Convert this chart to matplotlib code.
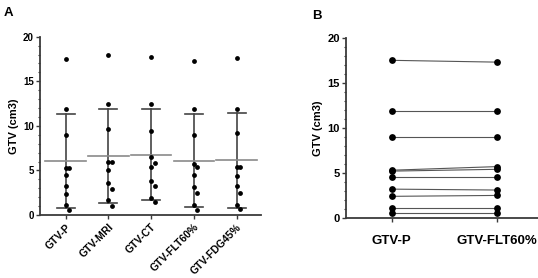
import numpy as np
import matplotlib.pyplot as plt

# --------------------------
# data
# --------------------------
groups = ['GTV-P', 'GTV-MRI', 'GTV-CT', 'GTV-FLT60%', 'GTV-FDG45%']
gtv_p = [17.5, 11.9, 9.0, 5.3, 5.3, 4.5, 3.2, 2.4, 1.1, 0.6]
gtv_mri = [17.9, 12.5, 9.6, 5.9, 5.9, 5.0, 3.6, 2.9, 1.7, 1.0]
gtv_ct = [17.7, 12.5, 9.4, 6.5, 5.8, 5.4, 3.8, 3.3, 1.9, 1.5]
gtv_flt = [17.3, 11.9, 9.0, 5.7, 5.4, 4.5, 3.1, 2.5, 1.1, 0.6]
gtv_fdg = [17.6, 11.9, 9.2, 5.4, 5.4, 4.4, 3.2, 2.5, 1.1, 0.7]
all_values = [gtv_p, gtv_mri, gtv_ct, gtv_flt, gtv_fdg]

# paired panel B: GTV-P vs GTV-FLT60%
paired_labels = ['GTV-P', 'GTV-FLT60%']
paired_p = [17.5, 11.9, 9.0, 5.3, 5.2, 4.5, 3.2, 2.4, 1.1, 0.6]
paired_flt = [17.3, 11.9, 9.0, 5.7, 5.4, 4.5, 3.1, 2.5, 1.1, 0.6]

plt.rcParams['font.family'] = ['Liberation Sans', 'DejaVu Sans']
plt.rcParams['font.weight'] = 'bold'
axis_color = '#3a3a3a'


def swarm_offsets(vals, gap=0.75, step=0.085):
    # simple beeswarm: push points sideways when they sit too close in y
    candidates = [0.0, step, -step, 2 * step, -2 * step]
    placed = []
    offs = np.zeros(len(vals))
    for i in np.argsort(vals)[::-1]:
        near = [o for (v, o) in placed if abs(v - vals[i]) < gap]
        o = next(c for c in candidates if c not in near)
        offs[i] = o
        placed.append((vals[i], o))
    return offs


def style_axis(ax, tick_size):
    for s in ['top', 'right']:
        ax.spines[s].set_visible(False)
    for s in ['left', 'bottom']:
        ax.spines[s].set_color(axis_color)
        ax.spines[s].set_linewidth(1.3)
    ax.set_ylim(0, 20)
    ax.set_yticks([0, 5, 10, 15, 20])
    ax.set_yticks(np.arange(0, 21, 1), minor=True)
    ax.tick_params(axis='y', which='major', length=3, width=1, color=axis_color, labelsize=tick_size, pad=1.5)
    ax.tick_params(axis='y', which='minor', length=1.8, width=0.8, color=axis_color)
    ax.tick_params(axis='x', length=3, width=1, color=axis_color)
    ax.set_ylabel('GTV (cm3)', fontsize=8, fontweight='bold', labelpad=3)


fig = plt.figure(figsize=(5.38, 2.78), dpi=100)

# ---------------- Panel A ----------------
axA = fig.add_axes([0.0743, 0.2266, 0.4107, 0.6414])
for i, vals in enumerate(all_values):
    vals = np.array(vals)
    offs = swarm_offsets(vals)
    axA.scatter(i + offs, vals, s=12, color='black', zorder=3, linewidths=0)
    m = vals.mean()
    sd = vals.std(ddof=1)
    axA.plot([i, i], [m - sd, m + sd], color='#444444', lw=1.2, zorder=2)
    axA.plot([i - 0.21, i + 0.21], [m + sd, m + sd], color='#444444', lw=1.2, zorder=2)
    axA.plot([i - 0.21, i + 0.21], [m - sd, m - sd], color='#444444', lw=1.2, zorder=2)
    axA.plot([i - 0.475, i + 0.475], [m, m], color='#8a8a8a', lw=1.2, zorder=2)
axA.set_xlim(-0.6, 4.57)
axA.set_xticks(range(len(groups)))
axA.set_xticklabels(groups, rotation=45, ha='right', rotation_mode='anchor', fontsize=7.5)
axA.tick_params(axis='x', pad=2)
style_axis(axA, 7)

# ---------------- Panel B ----------------
axB = fig.add_axes([0.643, 0.216, 0.357, 0.648])
for a, b in zip(paired_p, paired_flt):
    axB.plot([0, 1], [a, b], color='#555555', lw=0.8, zorder=2)
axB.scatter([0] * len(paired_p), paired_p, s=24, color='black', zorder=3, linewidths=0)
axB.scatter([1] * len(paired_flt), paired_flt, s=24, color='black', zorder=3, linewidths=0)
axB.set_xlim(-0.435, 1.39)
axB.set_xticks([0, 1])
axB.set_xticklabels(paired_labels, fontsize=9.5)
axB.tick_params(axis='x', pad=9)
style_axis(axB, 8)

fig.text(0.006, 0.975, 'A', fontsize=9.5, fontweight='bold', va='top')
fig.text(0.58, 0.965, 'B', fontsize=9.5, fontweight='bold', va='top')

fig.savefig('out.png', dpi=100)
